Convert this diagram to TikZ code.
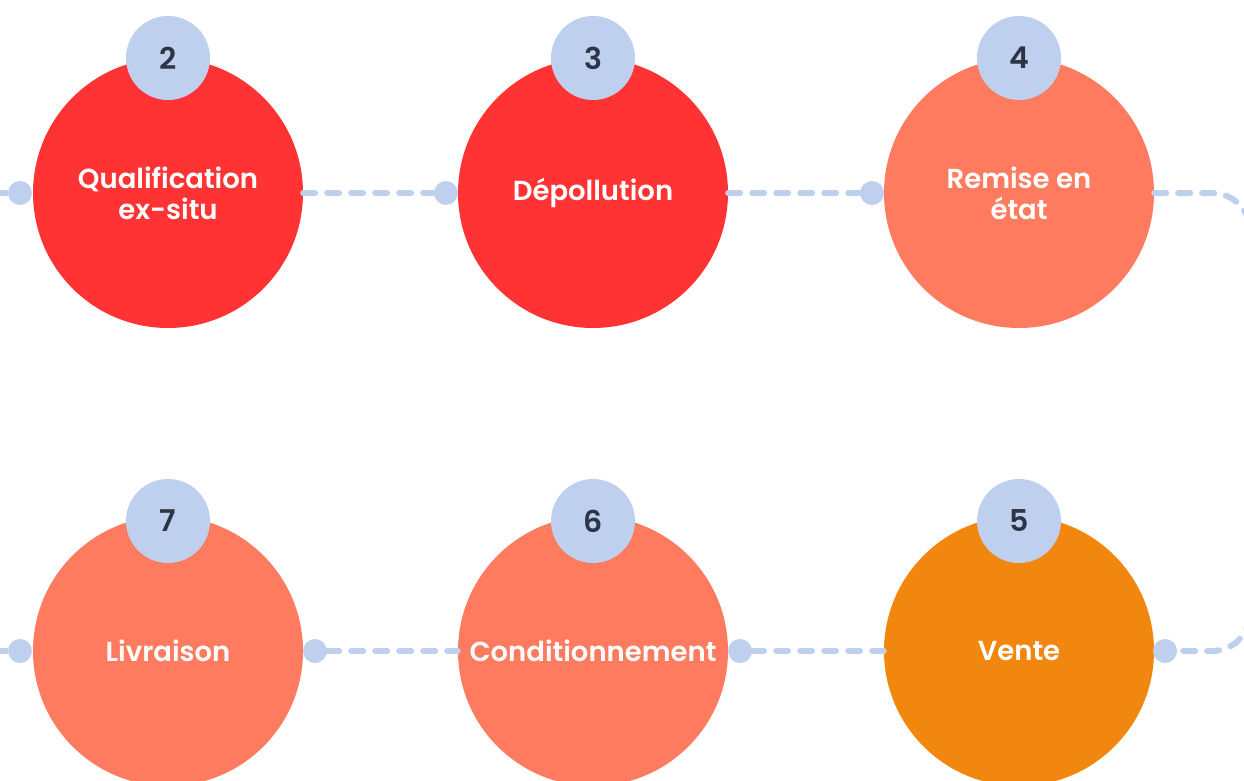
\documentclass[tikz,border=0pt]{standalone}
\usepackage{fontspec}
\setmainfont{Poppins}[BoldFont={Poppins SemiBold}]
\definecolor{cred}{HTML}{FF3333}
\definecolor{csalmon}{HTML}{FF7B5F}
\definecolor{corange}{HTML}{F2870F}
\definecolor{cblue}{HTML}{BFCFEE}
\definecolor{cdark}{HTML}{2D3446}
\begin{document}
\begin{tikzpicture}[x=1pt,y=-1pt,
  big/.style={circle, minimum size=270pt, inner sep=0pt, text=white, font=\bfseries\fontsize{27.5}{31}\selectfont, align=center},
  num/.style={circle, fill=cblue, minimum size=84pt, inner sep=0pt, text=cdark, font=\bfseries\fontsize{30}{34}\selectfont},
  dotn/.style={circle, fill=cblue, minimum size=24pt, inner sep=0pt},
  link/.style={cblue, line width=6pt, line cap=round, dash pattern=on 12pt off 12pt},
  solidlink/.style={cblue, line width=6pt}]
\useasboundingbox (0,0) rectangle (1244,781);
\clip (0,0) rectangle (1244,781);
% coordinates
\coordinate (l1) at (-5,193);
\coordinate (l2) at (-5,651);
\coordinate (rt) at (1250,193);
\coordinate (rb) at (1250,651);
% big circles
\node[big, fill=cred] (c2) at (168,193) {Qualification\\ex-situ};
\node[big, fill=cred] (c3) at (593,193) {\raisebox{-3pt}{Dépollution}};
\node[big, fill=csalmon] (c4) at (1019,193) {Remise en\\état};
\node[big, fill=csalmon] (c7) at (168,651) {Livraison};
\node[big, fill=csalmon] (c6) at (593,651) {Conditionnement};
\node[big, fill=corange] (c5) at (1019,651) {Vente};
% dots
\node[dotn] (d1) at (20,193) {};
\node[dotn] (d2) at (446,193) {};
\node[dotn] (d3) at (872,193) {};
\node[dotn] (e1) at (20,651) {};
\node[dotn] (e2) at (315,651) {};
\node[dotn] (e3) at (740,651) {};
\node[dotn] (e4) at (1165,651) {};
% connectors
\draw[solidlink] (l1) -- (d1);
\draw[solidlink] (l2) -- (e1);
\draw[link] (c2) -- (d2);
\draw[link] (c3) -- (d3);
\draw[link, rounded corners=38pt] (c4.east) -- (rt) -- (rb) -- (e4);
\draw[link] (e3) -- (c5);
\draw[link] (e2) -- (c6);
% number circles
\node[num] (n2) at (168,58) {2};
\node[num] (n3) at (593,58) {3};
\node[num] (n4) at (1019,58) {4};
\node[num] (n7) at (168,521) {7};
\node[num] (n6) at (593,521) {6};
\node[num] (n5) at (1019,521) {5};
\end{tikzpicture}
\end{document}
